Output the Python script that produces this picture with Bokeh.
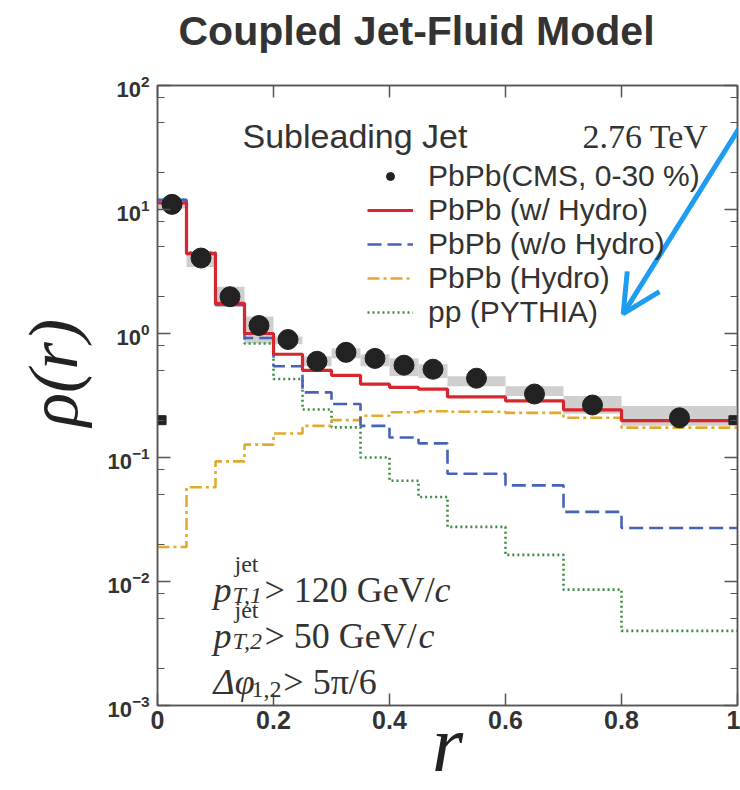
from bokeh.embed import file_html
from bokeh.models import (Arrow, CustomJSTickFormatter, FixedTicker, Label, Legend,
                          LegendItem, LinearAxis, LogAxis, LogTickFormatter, OpenHead,
                          Range1d, Title)
from bokeh.plotting import figure
from bokeh.resources import INLINE

# ---- jet-shape histogram: bin edges in r ----
r_edges = [0.0, 0.05, 0.10, 0.15, 0.20, 0.25, 0.30, 0.35, 0.40, 0.45, 0.50, 0.60, 0.70, 0.80, 1.00]

# CMS PbPb 0-30 % subleading-jet data (bin centres, values, systematic band)
cms_r = [0.025, 0.075, 0.125, 0.175, 0.225, 0.275, 0.325, 0.375, 0.425, 0.475, 0.55, 0.65, 0.75, 0.90]
cms_rho = [11.0, 4.06, 1.98, 1.16, 0.895, 0.597, 0.705, 0.630, 0.555, 0.515, 0.436, 0.325, 0.265, 0.209]
cms_sys_low = [10.2, 3.44, 1.64, 0.83, 0.82, 0.544, 0.631, 0.544, 0.453, 0.437, 0.376, 0.313, 0.225, 0.180]
cms_sys_high = [12.0, 4.37, 2.38, 1.37, 0.946, 0.655, 0.759, 0.679, 0.631, 0.565, 0.453, 0.376, 0.313, 0.260]

# model curves, one value per bin
rho_with_hydro = [11.3, 4.40, 1.75, 1.00, 0.680, 0.505, 0.460, 0.390, 0.368, 0.356, 0.308, 0.286, 0.242, 0.198]
rho_without_hydro = [12.0, 4.45, 1.70, 0.92, 0.544, 0.335, 0.270, 0.180, 0.145, 0.130, 0.074, 0.0596, 0.0364, 0.027]
rho_hydro = [0.019, 0.0575, 0.093, 0.127, 0.156, 0.180, 0.200, 0.217, 0.232, 0.236, 0.234, 0.229, 0.209, 0.174]
rho_pythia = [12.0, 4.50, 1.72, 0.83, 0.430, 0.244, 0.175, 0.100, 0.065, 0.048, 0.0276, 0.0164, 0.0086, 0.0040]

# normalisation-uncertainty markers at the plot edges
norm_r = [0.007, 0.993]
norm_rho = [0.20, 0.20]

# axis ticks
x_ticks = [0.0, 0.2, 0.4, 0.6, 0.8, 1.0]
y_ticks = [1e-3, 1e-2, 1e-1, 1e0, 1e1, 1e2]
y_minor_ticks = [m * 10.0 ** k for k in range(-3, 2) for m in (2, 5, 8)]

TEXT = "#333333"
AXIS = "#555555"

p = figure(width=740, height=790, y_axis_type="log",
           x_range=Range1d(0, 1), y_range=Range1d(1e-3, 1e2),
           output_backend="svg", toolbar_location=None,
           min_border_left=157, min_border_right=3,
           min_border_top=83, min_border_bottom=83,
           background_fill_color="white", border_fill_color="white")
p.grid.visible = False
p.outline_line_color = AXIS
p.outline_line_width = 1.5

p.title = Title(text="Coupled Jet-Fluid Model", align="left", offset=21,
                vertical_align="top", standoff=14,
                text_font="Liberation Sans", text_font_style="bold",
                text_font_size="41px", text_color=TEXT)

# bottom axis, with the big italic r as its title
xa = p.xaxis[0]
xa.ticker = FixedTicker(ticks=x_ticks, minor_ticks=[])
xa.major_label_text_font = "Liberation Sans"
xa.major_label_text_font_style = "bold"
xa.major_label_text_font_size = "25px"
xa.major_label_text_color = TEXT
xa.major_label_standoff = 5
xa.major_tick_in = 12
xa.major_tick_out = 0
xa.axis_line_color = AXIS
xa.axis_line_width = 1.5
xa.major_tick_line_color = AXIS
xa.major_tick_line_width = 1.5
xa.axis_label = "r"
xa.axis_label_text_font = "Liberation Serif"
xa.axis_label_text_font_style = "italic"
xa.axis_label_text_font_size = "80px"
xa.axis_label_text_color = "#222222"
xa.axis_label_standoff = -32

# left axis
ya = p.yaxis[0]
ya.ticker = FixedTicker(ticks=y_ticks, minor_ticks=y_minor_ticks)
ya.formatter = LogTickFormatter()
ya.major_label_text_font = "Liberation Sans"
ya.major_label_text_font_style = "bold"
ya.major_label_text_font_size = "22px"
ya.major_label_text_color = TEXT
ya.major_label_standoff = 8
ya.major_tick_in = 13
ya.major_tick_out = 0
ya.minor_tick_in = 7
ya.minor_tick_out = 0
ya.axis_line_color = AXIS
ya.axis_line_width = 1.5
ya.major_tick_line_color = AXIS
ya.minor_tick_line_color = AXIS
ya.major_tick_line_width = 1.5

# y-axis title, placed outside the tick labels, a little above centre
p.add_layout(Title(text="ρ(r)", align="left", offset=279, standoff=25,
                   text_font="Liberation Serif", text_font_style="italic",
                   text_font_size="70px", text_color="#222222"), "left")

# mirrored ticks on top and right; the top axis carries blank labels whose
# standoff leaves room between the frame and the title
top = LinearAxis(ticker=FixedTicker(ticks=x_ticks, minor_ticks=[]),
                 formatter=CustomJSTickFormatter(code="return ' '"),
                 major_tick_in=12, major_tick_out=0, major_label_standoff=19,
                 major_label_text_font_size="1px",
                 axis_line_color=AXIS, axis_line_width=1.5,
                 major_tick_line_color=AXIS, major_tick_line_width=1.5)
p.add_layout(top, "above")
right = LogAxis(ticker=FixedTicker(ticks=y_ticks, minor_ticks=y_minor_ticks),
                formatter=CustomJSTickFormatter(code="return ''"),
                major_tick_in=13, major_tick_out=0, minor_tick_in=7, minor_tick_out=0,
                major_label_standoff=0, major_label_text_font_size="1px",
                axis_line_color=AXIS, axis_line_width=1.5,
                major_tick_line_color=AXIS, minor_tick_line_color=AXIS,
                major_tick_line_width=1.5)
p.add_layout(right, "right")

# systematic uncertainty boxes of the data
p.quad(left=r_edges[:-1], right=r_edges[1:], bottom=cms_sys_low, top=cms_sys_high,
       fill_color="#d0cece", line_color=None)


def stepped(values):
    return values + [values[-1]]


r_pythia = p.step(x=r_edges, y=stepped(rho_pythia), mode="after",
                  line_color="#3c8d3f", line_width=2.6, line_dash="2 3")
r_hydro = p.step(x=r_edges, y=stepped(rho_hydro), mode="after",
                 line_color="#e2aa2b", line_width=2.6, line_dash="12 4 3 4")
r_without = p.step(x=r_edges, y=stepped(rho_without_hydro), mode="after",
                   line_color="#4763b8", line_width=2.6, line_dash="14 6")
r_with = p.step(x=r_edges, y=stepped(rho_with_hydro), mode="after",
                line_color="#d7262d", line_width=3.2)

r_cms = p.scatter(cms_r, cms_rho, size=20, color="#222222")
p.scatter(norm_r, norm_rho, marker="square", size=9, color="#222222")

legend = Legend(items=[
    LegendItem(label="PbPb(CMS, 0-30 %)", renderers=[r_cms]),
    LegendItem(label="PbPb (w/ Hydro)", renderers=[r_with]),
    LegendItem(label="PbPb (w/o Hydro)", renderers=[r_without]),
    LegendItem(label="PbPb (Hydro)", renderers=[r_hydro]),
    LegendItem(label="pp (PYTHIA)", renderers=[r_pythia]),
], location=(210, 376), glyph_width=46, glyph_height=20, label_height=20,
    label_standoff=15, spacing=0, padding=0, margin=0,
    label_text_font="Liberation Sans", label_text_font_size="30px",
    label_text_color=TEXT, border_line_color=None, background_fill_alpha=0)
p.add_layout(legend)


def text(x, y, s, size, font="Liberation Serif", style="normal", align="left",
         baseline="alphabetic"):
    p.add_layout(Label(x=x, y=y, text=s, text_font=font, text_font_style=style,
                       text_font_size=f"{size}px", text_color=TEXT, text_align=align,
                       text_baseline=baseline))


# header texts
text(0.1466, 39.0, "Subleading Jet", 34, font="Liberation Sans")
text(0.950, 39.0, "2.76 TeV", 34, align="right")

# kinematic cuts
text(0.0966, 0.0085, "p", 36, style="italic")
text(0.1328, 0.01374, "jet", 24)
text(0.1293, 0.00775, "T,1", 24, style="italic")
text(0.1845, 0.0085, "> 120 GeV/", 36)
text(0.4776, 0.0085, "c", 36, style="italic")

text(0.0966, 0.00364, "p", 36, style="italic")
text(0.1328, 0.00588, "jet", 24)
text(0.1293, 0.00332, "T,2", 24, style="italic")
text(0.1845, 0.00364, "> 50 GeV/", 36)
text(0.4500, 0.00364, "c", 36, style="italic")

text(0.0966, 0.001557, "Δφ", 36, style="italic")
text(0.1620, 0.001343, "1,2", 24)
text(0.2170, 0.001557, "> 5π/6", 36)

# hand-drawn pointer towards the legend
p.add_layout(Arrow(end=OpenHead(size=38, line_color="#1e9cf0", line_width=5),
                   x_start=1.005, y_start=47.0, x_end=0.803, y_end=1.445,
                   line_color="#1e9cf0", line_width=5, line_cap="round"))

open("out.html", "w").write(file_html(p, INLINE))
